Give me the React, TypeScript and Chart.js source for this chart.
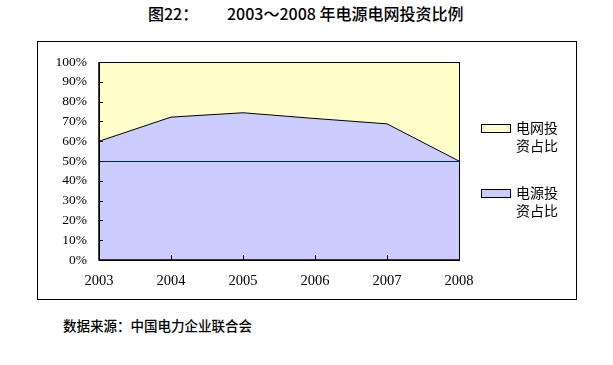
import React, { useEffect, useRef } from "react";
import { Chart, registerables } from "chart.js";

Chart.register(...registerables);

const categories = ["2003", "2004", "2005", "2006", "2007", "2008"];
const powerSourceShare = [60, 72.2, 74.4, 71.5, 68.8, 50];
const gridShare = [40, 27.8, 25.6, 28.5, 31.2, 50];
const seriesNames = ["电源投资占比", "电网投资占比"];
const referenceLineValue = 50;
const titleLeft = "图22：";
const titleRight = "2003～2008 年电源电网投资比例";
const sourceText = "数据来源：中国电力企业联合会";

const BLUE = "#CCCCFF";
const YELLOW = "#FFFFCC";

const decorPlugin = {
  id: "decor",
  afterDatasetsDraw(chart: any) {
    const { ctx, chartArea, scales } = chart;
    const y = scales.y;
    const x = scales.x;
    ctx.save();
    const yy = Math.round(y.getPixelForValue(referenceLineValue)) + 0.5;
    ctx.strokeStyle = "#0000FF";
    ctx.lineWidth = 1;
    ctx.beginPath();
    ctx.moveTo(chartArea.left, yy);
    ctx.lineTo(chartArea.right, yy);
    ctx.stroke();
    ctx.strokeStyle = "#000";
    ctx.lineWidth = 1;
    ctx.strokeRect(
      Math.round(chartArea.left) + 0.5,
      Math.round(chartArea.top) + 0.5,
      Math.round(chartArea.right - chartArea.left),
      Math.round(chartArea.bottom - chartArea.top)
    );
    ctx.lineWidth = 1.5;
    ctx.beginPath();
    ctx.moveTo(chartArea.left, chartArea.top);
    ctx.lineTo(chartArea.left, chartArea.bottom);
    ctx.lineTo(chartArea.right, chartArea.bottom);
    ctx.stroke();
    ctx.lineWidth = 1;
    ctx.beginPath();
    y.ticks.forEach((t: any) => {
      const p = Math.round(y.getPixelForValue(t.value)) + 0.5;
      ctx.moveTo(chartArea.left, p);
      ctx.lineTo(chartArea.left + 4, p);
    });
    categories.forEach((_c, i) => {
      const p = Math.round(x.getPixelForValue(i)) + 0.5;
      ctx.moveTo(p, chartArea.bottom);
      ctx.lineTo(p, chartArea.bottom - 5);
    });
    ctx.stroke();
    ctx.restore();
  },
  afterDraw(chart: any) {
    const { ctx } = chart;
    ctx.save();
    const items = [
      { name: seriesNames[1], color: YELLOW, boxTop: 82, lineY: 86 },
      { name: seriesNames[0], color: BLUE, boxTop: 147, lineY: 151 },
    ];
    ctx.font = '14px "Noto Sans CJK SC"';
    ctx.textBaseline = "middle";
    ctx.textAlign = "left";
    items.forEach((it) => {
      ctx.fillStyle = it.color;
      ctx.fillRect(443, it.boxTop, 30, 9);
      ctx.strokeStyle = "#000";
      ctx.lineWidth = 1;
      ctx.strokeRect(443.5, it.boxTop + 0.5, 29, 8);
      ctx.fillStyle = "#000";
      ctx.fillText(it.name.slice(0, 3), 478, it.lineY);
      ctx.fillText(it.name.slice(3), 478, it.lineY + 18);
    });
    ctx.restore();
  },
};

export default function App() {
  const ref = useRef<HTMLCanvasElement>(null);
  useEffect(() => {
    if (!ref.current) return;
    const chart = new Chart(ref.current, {
      type: "line",
      data: {
        labels: categories,
        datasets: [
          {
            label: seriesNames[0],
            data: powerSourceShare,
            backgroundColor: BLUE,
            borderColor: "#000",
            borderWidth: 1,
            fill: "origin",
            pointRadius: 0,
            tension: 0,
          },
          {
            label: seriesNames[1],
            data: gridShare,
            backgroundColor: YELLOW,
            borderColor: "rgba(0,0,0,0)",
            borderWidth: 0,
            fill: "-1",
            pointRadius: 0,
            tension: 0,
          },
        ],
      },
      options: {
        responsive: false,
        animation: false,
        events: [],
        layout: { padding: { left: 0, top: 20, right: 117, bottom: 0 } },
        plugins: {
          legend: { display: false },
          tooltip: { enabled: false },
          title: { display: false },
        },
        scales: {
          x: {
            offset: false,
            grid: { display: false, drawTicks: false },
            border: { display: false },
            ticks: {
              color: "#000",
              padding: 12,
              maxRotation: 0,
              autoSkip: false,
              font: { family: '"Liberation Serif", serif', size: 14.5 },
            },
            afterFit(s: any) {
              s.height = 39;
            },
          },
          y: {
            stacked: true,
            min: 0,
            max: 100,
            grid: { display: false, drawTicks: false },
            border: { display: false },
            ticks: {
              stepSize: 10,
              color: "#000",
              padding: 12,
              font: { family: '"Liberation Serif", serif', size: 13.5 },
              callback: (v: any) => v + "%",
            },
            afterFit(s: any) {
              s.width = 61;
            },
          },
        },
      },
      plugins: [decorPlugin],
    });
    return () => chart.destroy();
  }, []);

  return (
    <div
      style={{
        position: "fixed",
        left: 0,
        top: 0,
        width: 613,
        height: 365,
        background: "#fff",
        fontFamily: '"Noto Sans CJK SC", sans-serif',
        color: "#000",
      }}
    >
      <div style={{ position: "absolute", left: 148, top: 2, fontSize: 16, fontWeight: 500, lineHeight: "22px", whiteSpace: "nowrap" }}>
        {titleLeft}
      </div>
      <div style={{ position: "absolute", left: 227, top: 2, fontSize: 16, fontWeight: 500, lineHeight: "22px", whiteSpace: "nowrap" }}>
        {titleRight}
      </div>
      <div
        style={{
          position: "absolute",
          left: 37,
          top: 41,
          width: 540,
          height: 259,
          border: "1px solid #000",
          boxSizing: "border-box",
        }}
      >
        <canvas ref={ref} width={538} height={257} style={{ display: "block", width: 538, height: 257 }} />
      </div>
      <div style={{ position: "absolute", left: 63, top: 315, fontSize: 13.5, fontWeight: 500, lineHeight: "20px", whiteSpace: "nowrap" }}>
        {sourceText}
      </div>
    </div>
  );
}
